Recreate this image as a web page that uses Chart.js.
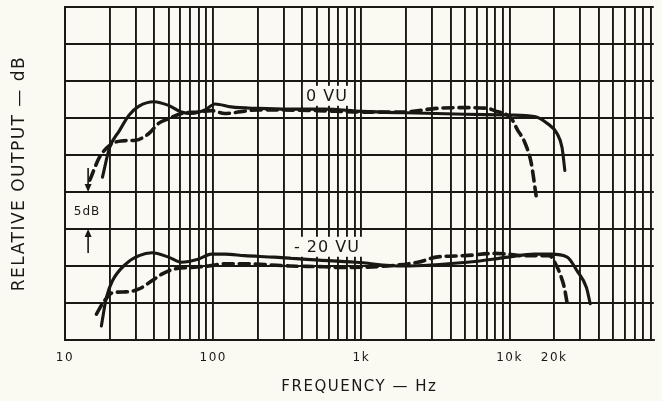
<!DOCTYPE html>
<html>
<head>
<meta charset="utf-8">
<script src="https://cdn.jsdelivr.net/npm/chart.js@4.4.1/dist/chart.umd.min.js"></script>
<style>
    html, body { margin: 0; padding: 0; background: #fafaf3; }
    #chart { display: block; }
</style>
</head>
<body>
<canvas id="chart" width="662" height="401"></canvas>
<script>
// grid lines of the log paper, 10 Hz .. 90 kHz
const gridFreqs = [
    10, 20, 30, 40, 50, 60, 70, 80, 90,
    100, 200, 300, 400, 500, 600, 700, 800, 900,
    1000, 2000, 3000, 4000, 5000, 6000, 7000, 8000, 9000,
    10000, 20000, 30000, 40000, 50000, 60000, 70000, 80000, 90000
];
const tickValues = [10, 100, 1000, 10000, 20000];
const tickLabels = ['10', '100', '1k', '10k', '20k'];

// 0 VU, solid trace
const vu0SolidFreq = [17.9, 20, 23.3, 27.1, 31.6, 39.8, 50, 61, 71, 88, 103, 132, 200, 330, 560,
    1000, 2000, 5000, 10000, 14700, 17900, 20900, 22600, 23600];
const vu0SolidDb = [22.0, 26.0, 28.3, 30.4, 31.6, 32.2, 31.7, 30.8, 30.6, 31.1, 31.9, 31.5, 31.3, 31.2, 31.2,
    30.9, 30.7, 30.5, 30.4, 30.2, 29.3, 27.9, 26.0, 22.9];

// 0 VU, dashed trace
const vu0DashFreq = [14.7, 17.1, 20, 23.9, 30, 36.8, 43, 50, 61, 79, 97, 120, 147, 200, 500,
    1000, 1900, 3200, 5000, 7100, 7900, 10300, 11300, 12600, 14000, 15100];
const vu0DashDb = [21.6, 24.7, 26.3, 26.9, 27.0, 27.9, 29.3, 29.9, 30.6, 30.8, 31.0, 30.6, 30.8, 31.1, 31.0,
    30.8, 30.8, 31.3, 31.4, 31.3, 31.0, 29.9, 28.4, 26.8, 23.9, 19.5];

// -20 VU, solid trace
const vu20SolidFreq = [17.6, 19.0, 20.9, 25.8, 31.6, 38.6, 50, 61, 79, 97, 120, 163, 259, 428, 920,
    1900, 5200, 9800, 14700, 19000, 24500, 28400, 33000, 35000];
const vu20SolidDb = [1.9, 5.7, 8.0, 10.3, 11.4, 11.8, 11.2, 10.5, 10.9, 11.6, 11.6, 11.4, 11.2, 10.9, 10.5,
    10.0, 10.5, 11.2, 11.6, 11.6, 11.2, 9.4, 7.1, 4.9];

// -20 VU, dashed trace
const vu20DashFreq = [16.3, 17.9, 21, 25.8, 31.6, 38.6, 45, 55, 71, 93, 120, 162, 331, 558, 700,
    2400, 3200, 5000, 7900, 9800, 12000, 18500, 20900, 22400, 23400, 24500];
const vu20DashDb = [3.5, 4.9, 6.4, 6.5, 6.9, 8.0, 8.9, 9.6, 9.8, 10.0, 10.3, 10.3, 10.0, 9.9, 9.8,
    10.5, 11.2, 11.4, 11.7, 11.6, 11.4, 11.4, 9.9, 8.4, 7.1, 4.9];

// notes written on the paper
const noteText = ['0 VU', '- 20 VU', '5dB'];
const noteFreq = [585, 585, 14.1];
const noteDb = [33.0, 12.6, 17.4];

const ink = '#1a1813';
const paper = '#fafaf3';

function series(freqs, dbs) {
    return freqs.map(function (f, i) { return { x: f, y: dbs[i] }; });
}

function trace(data, dashed) {
    return {
        data: data,
        borderColor: ink,
        borderWidth: dashed ? 3.6 : 3.1,
        borderDash: dashed ? [10, 6] : [],
        borderCapStyle: 'round',
        pointRadius: 0,
        fill: false,
        cubicInterpolationMode: 'monotone'
    };
}

// scanned lettering is widely spaced
const spacing = {
    id: 'spacing',
    beforeDraw(chart) { chart.ctx.letterSpacing = '1.5px'; },
    afterDraw(chart) { chart.ctx.letterSpacing = '0px'; }
};

const notes = {
    id: 'notes',
    afterDatasetsDraw(chart) {
        const ctx = chart.ctx;
        const x = chart.scales.x;
        const y = chart.scales.y;
        ctx.save();
        ctx.letterSpacing = '1px';
        ctx.textAlign = 'center';
        ctx.textBaseline = 'middle';
        noteText.forEach(function (text, i) {
            const px = x.getPixelForValue(noteFreq[i]);
            const py = y.getPixelForValue(noteDb[i]);
            const small = i === 2;
            ctx.font = (small ? '12px' : '16px') + ' "DejaVu Sans"';
            if (!small) {
                const w = ctx.measureText(text).width + 6;
                ctx.fillStyle = paper;
                ctx.fillRect(px - w / 2, py - 10, w, 20);
            }
            ctx.fillStyle = ink;
            ctx.fillText(text, px, py + 1);
        });

        // 5 dB arrows
        const ax = x.getPixelForValue(noteFreq[2]) + 1;
        const top = y.getPixelForValue(20);
        const bottom = y.getPixelForValue(15);
        ctx.strokeStyle = ink;
        ctx.fillStyle = ink;
        ctx.lineWidth = 1.6;
        ctx.beginPath();
        ctx.moveTo(ax, top - 24);
        ctx.lineTo(ax, top - 6);
        ctx.moveTo(ax, bottom + 6);
        ctx.lineTo(ax, bottom + 24);
        ctx.stroke();
        ctx.beginPath();
        ctx.moveTo(ax - 3.5, top - 8);
        ctx.lineTo(ax + 3.5, top - 8);
        ctx.lineTo(ax, top);
        ctx.closePath();
        ctx.moveTo(ax - 3.5, bottom + 8);
        ctx.lineTo(ax + 3.5, bottom + 8);
        ctx.lineTo(ax, bottom);
        ctx.closePath();
        ctx.fill();
        ctx.restore();
    }
};

new Chart(document.getElementById('chart'), {
    type: 'line',
    data: {
        datasets: [
            trace(series(vu0SolidFreq, vu0SolidDb), false),
            trace(series(vu0DashFreq, vu0DashDb), true),
            trace(series(vu20SolidFreq, vu20SolidDb), false),
            trace(series(vu20DashFreq, vu20DashDb), true)
        ]
    },
    options: {
        responsive: false,
        animation: false,
        devicePixelRatio: 1,
        events: [],
        layout: { padding: { left: 0, top: 7, right: 1, bottom: 0 } },
        plugins: {
            legend: { display: false },
            tooltip: { enabled: false }
        },
        scales: {
            x: {
                type: 'logarithmic',
                min: 10,
                max: 94000,
                afterBuildTicks: function (scale) {
                    scale.ticks = gridFreqs.map(function (v) { return { value: v }; });
                },
                ticks: {
                    autoSkip: false,
                    maxRotation: 0,
                    padding: 11,
                    color: ink,
                    font: { family: 'DejaVu Sans', size: 12 },
                    callback: function (value) {
                        const i = tickValues.indexOf(value);
                        return i >= 0 ? tickLabels[i] : '';
                    }
                },
                grid: { color: ink, lineWidth: 1.9, drawTicks: false },
                border: { color: ink, width: 2 },
                title: {
                    display: true,
                    text: 'FREQUENCY — Hz',
                    color: ink,
                    font: { family: 'DejaVu Sans', size: 15 },
                    padding: { top: 1.6, bottom: 5 }
                }
            },
            y: {
                min: 0,
                max: 45,
                ticks: { stepSize: 5, display: false },
                grid: { color: ink, lineWidth: 1.9, drawTicks: false },
                border: { color: ink, width: 2 },
                title: {
                    display: true,
                    text: 'RELATIVE OUTPUT — dB',
                    color: ink,
                    font: { family: 'DejaVu Sans', size: 17 },
                    padding: { top: 9.8, bottom: 34.8 }
                }
            }
        }
    },
    plugins: [spacing, notes]
});
</script>
</body>
</html>
